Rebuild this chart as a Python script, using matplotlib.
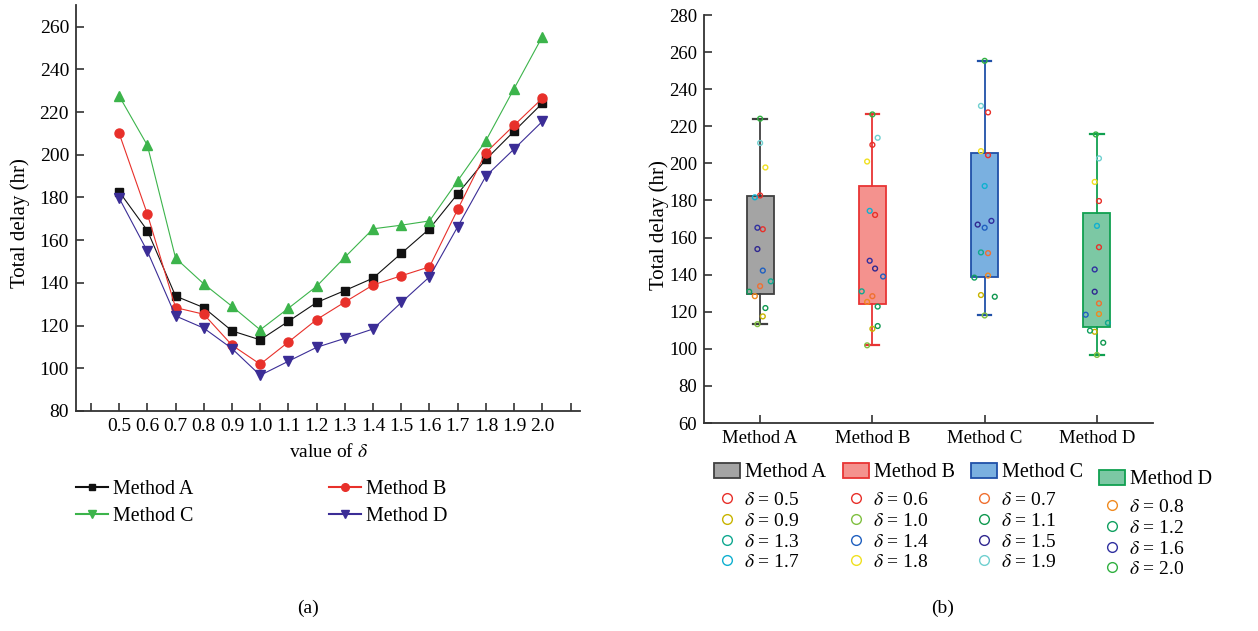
import numpy as np
import matplotlib
matplotlib.use('Agg')
import matplotlib.pyplot as plt
from matplotlib import cbook
from matplotlib.lines import Line2D
from matplotlib.patches import Patch

plt.rcParams['font.family'] = 'serif'
plt.rcParams['font.serif'] = ['Liberation Serif', 'DejaVu Serif']
plt.rcParams['mathtext.fontset'] = 'stix'

delta = [0.5, 0.6, 0.7, 0.8, 0.9, 1.0, 1.1, 1.2, 1.3, 1.4, 1.5, 1.6, 1.7, 1.8, 1.9, 2.0]
methods = ['Method A', 'Method B', 'Method C', 'Method D']

delay_a = [182.7, 164.5, 133.8, 128.4, 117.5, 113.3, 122.0, 130.8, 136.4, 142.2, 153.8, 165.3, 181.7, 197.8, 211.0, 224.1]
delay_b = [210.0, 172.2, 128.4, 125.3, 110.8, 101.9, 112.3, 122.8, 131.0, 139.0, 143.3, 147.5, 174.4, 201.0, 213.8, 226.4]
delay_c = [227.5, 204.4, 151.6, 139.5, 129.0, 118.0, 128.1, 138.4, 152.0, 165.3, 167.0, 169.0, 187.8, 206.6, 231.0, 255.3]
delay_d = [179.7, 154.8, 124.5, 118.8, 109.2, 96.7, 103.3, 109.8, 114.0, 118.4, 130.8, 142.8, 166.3, 190.0, 202.7, 215.6]

# horizontal spread of the dots in panel (b), per method and delta
jitter_a = [0, 0.024, 0, -0.047, 0.024, -0.024, 0.047, -0.097, 0.095, 0.024, -0.024, -0.024, -0.047, 0.047, 0, 0]
jitter_b = [0, 0.024, 0, -0.047, 0, -0.047, 0.047, 0.047, -0.095, 0.095, 0.024, -0.024, -0.024, -0.047, 0.047, 0]
jitter_c = [0.03, 0.03, 0.03, 0.03, -0.033, 0, 0.09, -0.092, -0.033, 0, -0.062, 0.06, 0, -0.033, -0.033, 0]
jitter_d = [0.018, 0.018, 0.018, 0.018, -0.02, 0, 0.056, -0.062, 0.098, -0.1, -0.02, -0.02, 0, -0.02, 0.018, -0.01]

delta_colors = ['#e8302a', '#e8302a', '#f07030', '#f08a20', '#c8b400', '#80c040', '#109850', '#10a060',
                '#10a890', '#2060c0', '#302890', '#3030a0', '#10b0d0', '#f0e020', '#70d0d0', '#30b040']

line_colors = ['#111111', '#e8302a', '#3cb44b', '#3b2d96']
line_markers = ['s', 'o', '^', 'v']
box_face = ['#a4a4a4', '#f4928e', '#7ab0e0', '#7cc8a4']
box_edge = ['#404040', '#e83434', '#2050a8', '#10a050']

data = [delay_a, delay_b, delay_c, delay_d]
jit = [jitter_a, jitter_b, jitter_c, jitter_d]

fig = plt.figure(figsize=(12.58, 6.31), dpi=100)

#aaaaaaaaaaaaaaaa
ax = fig.add_axes([0.0604, 0.3487, 0.401, 0.643])
msize = [5.5, 6.5, 7.5, 7.5]
for i in range(4):
    ax.plot(delta, data[i], '-', color=line_colors[i], marker=line_markers[i], markersize=msize[i], lw=0.8)
ax.set_xlim(0.347, 2.135)
ax.set_ylim(80, 270)
ax.set_xticks(np.arange(0.4, 2.15, 0.1))
ax.set_xticklabels([''] + ['%.1f' % d for d in delta] + [''])
ax.set_yticks(np.arange(80, 261, 20))
ax.tick_params(direction='in', length=6, width=1.2, labelsize=14, color='#333333', pad=5)
for s in ['top', 'right']:
    ax.spines[s].set_visible(False)
for s in ['left', 'bottom']:
    ax.spines[s].set_linewidth(1.3)
    ax.spines[s].set_color('#333333')
ax.set_xlabel(r'value of $\delta$', fontsize=14)
ax.xaxis.set_label_coords(0.5, -0.08)
ax.set_ylabel('Total delay (hr)', fontsize=15)
ax.yaxis.set_label_coords(-0.092, 0.463)

handles = [Line2D([], [], color=line_colors[0], marker='s', markersize=5),
           Line2D([], [], color=line_colors[2], marker='v', markersize=6),
           Line2D([], [], color=line_colors[1], marker='o', markersize=5.5),
           Line2D([], [], color=line_colors[3], marker='v', markersize=6)]
labels = ['Method A', 'Method C', 'Method B', 'Method D']
fig.legend(handles, labels, ncol=2, loc='upper left', bbox_to_anchor=(0.0604, 0.2393), frameon=False,
           fontsize=14.4, handlelength=1.6, handletextpad=0.25, columnspacing=6.8, labelspacing=0.38,
           borderaxespad=0, borderpad=0)

#bbbbbbbbbbbbbbbb
ax2 = fig.add_axes([0.5596, 0.3296, 0.357, 0.6466])
stats = cbook.boxplot_stats(data, whis=(0, 100))
for i in range(4):
    stats[i]['q1'], stats[i]['q3'] = np.percentile(data[i], [25, 75], method='hazen')
bp = ax2.bxp(stats, positions=[1, 2, 3, 4], widths=0.24, showfliers=False,
             patch_artist=True, capwidths=0.12)
for i in range(4):
    bp['boxes'][i].set_facecolor(box_face[i])
    bp['boxes'][i].set_edgecolor(box_edge[i])
    bp['boxes'][i].set_linewidth(1.3)
    bp['medians'][i].set_visible(False)
    for w in bp['whiskers'][2 * i:2 * i + 2]:
        w.set_color(box_edge[i])
        w.set_linewidth(1.3)
    for c in bp['caps'][2 * i:2 * i + 2]:
        c.set_color(box_edge[i])
        c.set_linewidth(1.6)
    xs = i + 1 + np.array(jit[i])
    ax2.scatter(xs, data[i], s=12, facecolors='none', edgecolors=delta_colors, linewidths=1.0, zorder=3)
ax2.set_xlim(0.5, 4.5)
ax2.set_ylim(60, 280)
ax2.set_yticks(np.arange(60, 281, 20))
ax2.set_xticks([1, 2, 3, 4])
ax2.set_xticklabels(methods)
ax2.tick_params(direction='in', length=6, width=1.2, labelsize=13.5, color='#333333', pad=5)
for s in ['top', 'right']:
    ax2.spines[s].set_visible(False)
for s in ['left', 'bottom']:
    ax2.spines[s].set_linewidth(1.3)
    ax2.spines[s].set_color('#333333')
ax2.set_ylabel('Total delay (hr)', fontsize=15)
ax2.yaxis.set_label_coords(-0.078, 0.485)

col_x = [0.5676, 0.6701, 0.7719, 0.8736]
head_y = [0.2662, 0.2662, 0.2662, 0.2551]
rows_y = [0.2211, 0.2211, 0.2211, 0.2100]
for i in range(4):
    fig.legend([Patch(facecolor=box_face[i], edgecolor=box_edge[i], linewidth=1.3)], [methods[i]],
               loc='upper left', bbox_to_anchor=(col_x[i], head_y[i]), frameon=False, fontsize=14.5,
               handlelength=1.3, handleheight=0.75, handletextpad=0.25, borderaxespad=0, borderpad=0)
    h = []
    l = []
    for j in range(i, 16, 4):
        h.append(Line2D([], [], ls='none', marker='o', markersize=7, markerfacecolor='none',
                        markeredgecolor=delta_colors[j], markeredgewidth=1.0))
        l.append(r'$\delta$ = %.1f' % delta[j])
    fig.legend(h, l, loc='upper left', bbox_to_anchor=(col_x[i], rows_y[i]), frameon=False,
               fontsize=14, handlelength=1.3, handletextpad=0.25, labelspacing=0.16,
               borderaxespad=0, borderpad=0)

fig.text(0.245, 0.036, '(a)', fontsize=14, ha='center', va='center')
fig.text(0.749, 0.036, '(b)', fontsize=14, ha='center', va='center')

fig.savefig('out.png', dpi=100)
